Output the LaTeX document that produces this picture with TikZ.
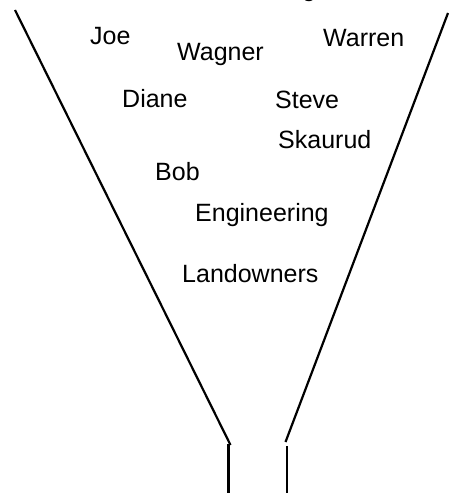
\documentclass[tikz,border=0pt]{standalone}
\usepackage{fontspec}
\setmainfont{Liberation Sans}
\begin{document}
\begin{tikzpicture}[x=1pt,y=-1pt,
  every node/.style={anchor=base west,inner sep=0pt,font=\fontsize{25}{30}\selectfont},
  funnel/.style={line width=2.2pt},
  neck/.style={line width=3pt}]
  \useasboundingbox (0,0) rectangle (450,495);

  % funnel walls
  \draw[funnel] (15,10) -- (230.5,445);
  \draw[funnel] (448,13) -- (285.5,442);
  % neck
  \draw[neck] (228.5,444) -- (228.5,493);
  \draw[neck,line width=2.5pt] (287,446) -- (287,493);

  % text cut off at the top
  \node[anchor=base] (top) at (309,-3) {g};

  % names
  \node (joe) at (90,45) {Joe};
  \node (wagner) at (177,61) {Wagner};
  \node (warren) at (323,47) {Warren};
  \node (diane) at (122,107) {Diane};
  \node (steve) at (275,108) {Steve};
  \node (skaurud) at (278,148) {Skaurud};
  \node (bob) at (155,180) {Bob};
  \node (engineering) at (195,221) {Engineering};
  \node (landowners) at (182,282) {Landowners};
\end{tikzpicture}
\end{document}
